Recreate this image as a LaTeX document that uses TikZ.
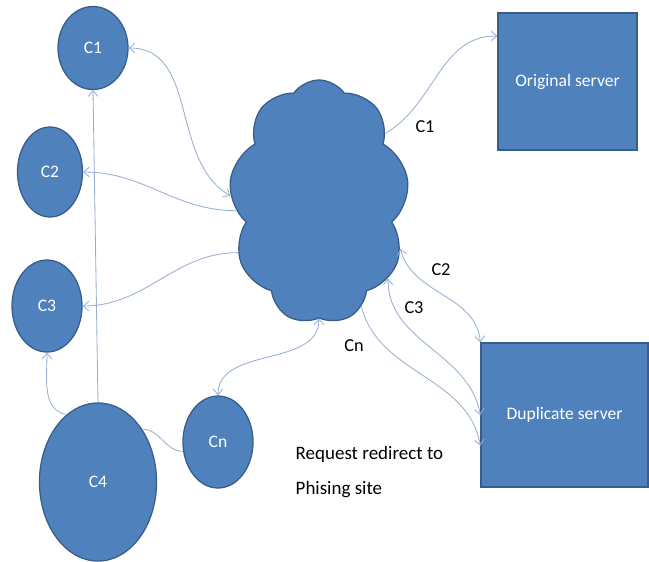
\documentclass[tikz,border=0pt]{standalone}
\usepackage{fontspec}
\setmainfont{Carlito}
\usetikzlibrary{positioning,arrows.meta,shapes.geometric,shapes.symbols}

\definecolor{boxfill}{HTML}{4F81BD}
\definecolor{boxline}{HTML}{385D8A}
\definecolor{linkcol}{HTML}{97AED3}

\begin{document}
\begin{tikzpicture}[
      x=0.025cm, y=-0.025cm,
      cn/.style = {ellipse, draw=boxline, fill=boxfill, line width=0.9pt, inner sep=0pt, text=white, font=\fontsize{12.5}{14}\selectfont},
      sv/.style = {rectangle, draw=boxline, fill=boxfill, line width=0.9pt, inner sep=0pt, text=white, font=\fontsize{12.5}{14}\selectfont},
      lk/.style = {draw=linkcol, line width=0.6pt, >={Straight Barb[length=1.4mm, width=2.4mm]}},
      lb/.style = {font=\fontsize{13}{15}\selectfont, inner sep=1pt},
    ]
    \useasboundingbox (0,0) rectangle (649,561);

    % clients
    \node[cn, minimum width=1.75cm,  minimum height=2.075cm] (C1) at (93, 48)  {C1};
    \node[cn, minimum width=1.625cm, minimum height=2.25cm]  (C2) at (50, 172) {C2};
    \node[cn, minimum width=1.75cm,  minimum height=2.3cm]   (C3) at (47, 306) {C3};
    \node[cn, minimum width=2.925cm, minimum height=3.95cm]  (C4) at (98, 482) {C4};
    \node[cn, minimum width=1.75cm,  minimum height=2.3cm]   (Cn) at (218, 442) {Cn};

    % network
    \node[cloud, cloud puffs=9, cloud puff arc=110, aspect=0.75, draw=boxline, fill=boxfill, line width=0.9pt,
          minimum width=4.5cm, minimum height=6.1cm] (net) at (319, 202) {};

    % servers
    \node[sv, minimum width=3.475cm, minimum height=3.425cm] (orig) at (567.5, 81.5) {Original server};
    \node[sv, minimum width=4.175cm, minimum height=3.6cm]   (dup)  at (564.5, 415)  {Duplicate server};

    % links
    \draw[lk, <->] (C1.east) to[out=0, in=150] (net.176);
    \draw[lk, ->] (net.186) to[out=180, in=0] (C2.east);
    \draw[lk, ->] (net.212) to[out=180, in=0] (C3.east);
    \draw[lk, ->] (C4.north) -- (C1.south);
    \draw[lk, ->] (C4.115) to[out=170, in=-90] (C3.south);
    \draw[lk] (C4.50) to[out=0, in=180] (Cn.195);
    \draw[lk, <->] (Cn.north) to[out=90, in=-90] (net.-90);
    \draw[lk, ->] (net.46) to[out=30, in=180] (orig.147);
    \draw[lk, <->] (net.-30) to[out=-75, in=95] (dup.north west);
    \draw[lk, <->] (net.-48) to[out=-90, in=100] (dup.west);
    \draw[lk, ->] (net.-68) to[out=-75, in=100] (dup.200);

    % labels
    \node[lb] (l1) at (425, 127) {C1};
    \node[lb] (l2) at (441, 270) {C2};
    \node[lb] (l3) at (414, 308) {C3};
    \node[lb] (ln) at (354, 346) {Cn};
    \node[lb, anchor=west, align=left, font=\fontsize{13.5}{25}\selectfont] (req) at (294, 472)
      {Request redirect to\\Phising site};
  \end{tikzpicture}
\end{document}
